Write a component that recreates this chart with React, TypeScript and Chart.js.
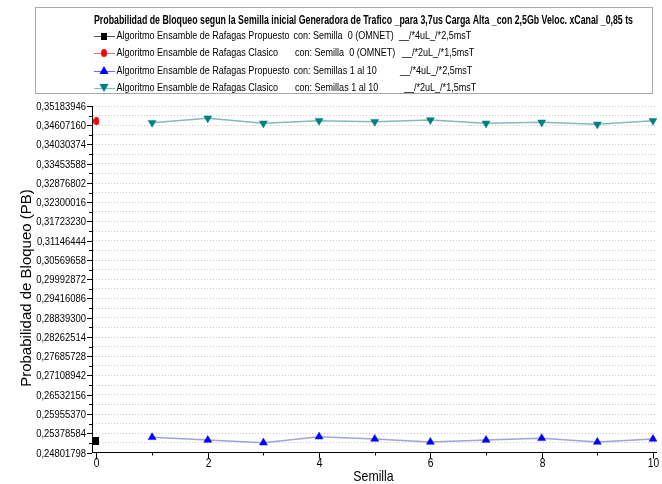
import React, { useEffect, useRef } from 'react';
import { Chart, registerables } from 'chart.js';

Chart.register(...registerables);

// ---------------- data ----------------
const chartTitle =
  'Probabilidad de Bloqueo segun la Semilla inicial Generadora de Trafico _para 3,7us Carga Alta _con 2,5Gb Veloc. xCanal _0,85 ts';
const legendNames = [
  'Algoritmo Ensamble de Rafagas Propuesto',
  'Algoritmo Ensamble de Rafagas Clasico',
  'Algoritmo Ensamble de Rafagas Propuesto',
  'Algoritmo Ensamble de Rafagas Clasico',
];
const legendSeeds = [
  'con: Semilla  0 (OMNET)',
  'con: Semilla  0 (OMNET)',
  'con: Semillas 1 al 10',
  'con: Semillas 1 al 10',
];
const legendParams = ['__/*4uL_/*2,5msT', '__/*2uL_/*1,5msT', '__/*4uL_/*2,5msT', '__/*2uL_/*1,5msT'];

const xTitle = 'Semilla';
const yTitle = 'Probabilidad de Bloqueo (PB)';

const yTickLabels = [
  '0,24801798', '0,25378584', '0,25955370', '0,26532156', '0,27108942', '0,27685728',
  '0,28262514', '0,28839300', '0,29416086', '0,29992872', '0,30569658', '0,31146444',
  '0,31723230', '0,32300016', '0,32876802', '0,33453588', '0,34030374', '0,34607160',
  '0,35183946',
];
const xTickValues = [0, 1, 2, 3, 4, 5, 6, 7, 8, 9, 10];
const xTickLabels = ['0', '', '2', '', '4', '', '6', '', '8', '', '10'];

const seedZero = [0];
const seedsOneToTen = [1, 2, 3, 4, 5, 6, 7, 8, 9, 10];
const propuestoSeed0 = [0.25146];
const clasicoSeed0 = [0.3473];
const propuestoSeeds = [0.25257, 0.25176, 0.25095, 0.25275, 0.25206, 0.25116, 0.25176, 0.25227, 0.25116, 0.25206];
const clasicoSeeds = [0.34684, 0.34815, 0.34666, 0.34744, 0.34714, 0.34765, 0.34666, 0.34696, 0.34636, 0.34744];

// ---------------- styles ----------------
const SANS = "'Liberation Sans', Arial, sans-serif";
const NARROW_FACTOR = 0.82;

function narrowText(ctx: CanvasRenderingContext2D, text: string, x: number, y: number, size: number, bold = false, maxW?: number) {
  ctx.font = `${bold ? 'bold ' : ''}${size}px ${SANS}`;
  const natural = ctx.measureText(text).width;
  let w = natural * NARROW_FACTOR;
  if (maxW !== undefined) w = Math.min(w, maxW);
  if (w > 0) ctx.fillText(text, x, y, w);
}

function makeMarker(kind: 'rect' | 'ellipse', w: number, h: number, color: string) {
  const c = document.createElement('canvas');
  c.width = w;
  c.height = h;
  const g = c.getContext('2d')!;
  g.fillStyle = color;
  if (kind === 'rect') {
    g.fillRect(0, 0, w, h);
  } else {
    g.beginPath();
    g.ellipse(w / 2, h / 2, w / 2, h / 2, 0, 0, Math.PI * 2);
    g.fill();
  }
  return c;
}

export default function App() {
  const ref = useRef<HTMLCanvasElement>(null);

  useEffect(() => {
    const canvas = ref.current!;
    const squareImg = makeMarker('rect', 6, 8, '#000000');
    const circleImg = makeMarker('ellipse', 6, 8, '#ff0000');

    const yMajor = yTickLabels.map((s) => parseFloat(s.replace(',', '.')));
    const yTicks: { value: number; label: string }[] = [];
    for (let i = 0; i < yMajor.length; i++) {
      yTicks.push({ value: yMajor[i], label: yTickLabels[i] });
      if (i < yMajor.length - 1) yTicks.push({ value: (yMajor[i] + yMajor[i + 1]) / 2, label: '' });
    }

    const legendRows = [
      { line: '#505050', marker: 'square' },
      { line: '#e07070', marker: 'circle' },
      { line: '#6a6ae6', marker: 'up' },
      { line: '#7fbfbf', marker: 'down' },
    ];
    const rowY = [35.7, 53.2, 70.6, 87.6];
    const seedX = [293.5, 295, 293.5, 295];
    const paramX = [399, 402, 400, 404];

    const extras = {
      id: 'extras',
      afterDraw(chart: any) {
        const { ctx, chartArea } = chart;
        const xs = chart.scales.x;
        const ys = chart.scales.y;
        ctx.save();
        // tick marks + tick labels
        ctx.strokeStyle = '#000';
        ctx.lineWidth = 1;
        ctx.fillStyle = '#000';
        ctx.textBaseline = 'middle';
        ys.ticks.forEach((t: any, i: number) => {
          const py = Math.round(ys.getPixelForValue(t.value)) + 0.5;
          const len = i % 2 === 0 ? 5 : 3;
          ctx.beginPath();
          ctx.moveTo(chartArea.left - len, py);
          ctx.lineTo(chartArea.left, py);
          ctx.stroke();
          const label = yTicks[i] ? yTicks[i].label : '';
          if (label) {
            ctx.textAlign = 'right';
            narrowText(ctx, label, chartArea.left - 6, py, 11.5);
          }
        });
        xs.ticks.forEach((t: any, i: number) => {
          const px = Math.round(xs.getPixelForValue(t.value)) + 0.5;
          const len = t.value % 2 === 0 ? 6 : 3;
          ctx.beginPath();
          ctx.moveTo(px, chartArea.bottom);
          ctx.lineTo(px, chartArea.bottom + len);
          ctx.stroke();
          const label = xTickLabels[i] || '';
          if (label) {
            ctx.textAlign = 'center';
            narrowText(ctx, label, px, chartArea.bottom + 11, 12.5);
          }
        });

        // axis titles
        ctx.textAlign = 'center';
        ctx.textBaseline = 'middle';
        narrowText(ctx, xTitle, 373.5, 477, 15);
        ctx.save();
        ctx.translate(26.5, 288);
        ctx.rotate(-Math.PI / 2);
        ctx.font = `15px ${SANS}`;
        ctx.fillText(yTitle, 0, 0);
        ctx.restore();

        // legend box
        ctx.strokeStyle = '#a8a8a8';
        ctx.lineWidth = 1;
        ctx.strokeRect(35.5, 7.5, 617, 86);

        ctx.textAlign = 'left';
        ctx.fillStyle = '#000';
        narrowText(ctx, chartTitle, 94, 20.5, 12, true, 539);

        legendRows.forEach((r, i) => {
          const y = rowY[i];
          ctx.strokeStyle = r.line;
          ctx.lineWidth = 1;
          ctx.beginPath();
          ctx.moveTo(94, Math.round(y) + 0.5);
          ctx.lineTo(115, Math.round(y) + 0.5);
          ctx.stroke();
          const cx = 104;
          if (r.marker === 'square') {
            ctx.drawImage(squareImg, cx - 3, Math.round(y) - 3.5, 6, 7);
          } else if (r.marker === 'circle') {
            ctx.drawImage(circleImg, cx - 3, Math.round(y) - 4, 6, 8);
          } else {
            ctx.fillStyle = r.marker === 'up' ? '#0000ff' : '#008080';
            ctx.beginPath();
            if (r.marker === 'up') {
              ctx.moveTo(cx, y - 4.5);
              ctx.lineTo(cx + 4.5, y + 3.5);
              ctx.lineTo(cx - 4.5, y + 3.5);
            } else {
              ctx.moveTo(cx, y + 4.5);
              ctx.lineTo(cx + 4.5, y - 3.5);
              ctx.lineTo(cx - 4.5, y - 3.5);
            }
            ctx.closePath();
            ctx.fill();
          }
          ctx.fillStyle = '#000';
          narrowText(ctx, legendNames[i], 116.5, y, 11);
          narrowText(ctx, legendSeeds[i], seedX[i], y, 11);
          narrowText(ctx, legendParams[i], paramX[i], y, 11);
        });
        ctx.restore();
      },
    };

    const chart = new Chart(canvas, {
      type: 'line',
      data: {
        datasets: [
          {
            label: legendNames[0],
            data: seedZero.map((x, i) => ({ x, y: propuestoSeed0[i] })),
            borderColor: '#505050',
            backgroundColor: '#000000',
            pointStyle: squareImg as any,
            pointRadius: 4,
            showLine: false,
          },
          {
            label: legendNames[1],
            data: seedZero.map((x, i) => ({ x, y: clasicoSeed0[i] })),
            borderColor: '#e07070',
            backgroundColor: '#ff0000',
            pointStyle: circleImg as any,
            pointRadius: 4,
            showLine: false,
          },
          {
            label: legendNames[2],
            data: seedsOneToTen.map((x, i) => ({ x, y: propuestoSeeds[i] })),
            borderColor: '#a2a2dc',
            borderWidth: 1.5,
            pointStyle: 'triangle',
            pointRadius: 4.6,
            pointBorderWidth: 0.5,
            pointBackgroundColor: '#0000ff',
            pointBorderColor: '#0000ff',
          },
          {
            label: legendNames[3],
            data: seedsOneToTen.map((x, i) => ({ x, y: clasicoSeeds[i] })),
            borderColor: '#86b9b9',
            borderWidth: 1.5,
            pointStyle: 'triangle',
            rotation: 180,
            pointRadius: 4.6,
            pointBorderWidth: 0.5,
            pointBackgroundColor: '#008080',
            pointBorderColor: '#008080',
          } as any,
        ],
      },
      options: {
        animation: false,
        responsive: false,
        maintainAspectRatio: false,
        layout: { padding: { top: 106, right: 0, left: 0, bottom: 0 } },
        plugins: { legend: { display: false }, tooltip: { enabled: false } },
        scales: {
          x: {
            type: 'linear',
            min: -0.08,
            max: 10.07,
            afterBuildTicks: (s: any) => {
              s.ticks = xTickValues.map((v) => ({ value: v }));
            },
            afterFit: (s: any) => {
              s.height = 31.5;
            },
            ticks: { display: false },
            grid: { display: true, drawOnChartArea: false, tickLength: 5, tickColor: 'rgba(0,0,0,0)' },
            border: { display: true, color: '#000', width: 1 },
          },
          y: {
            type: 'linear',
            min: yMajor[0],
            max: yMajor[yMajor.length - 1],
            afterBuildTicks: (s: any) => {
              s.ticks = yTicks.map((t) => ({ value: t.value }));
            },
            afterFit: (s: any) => {
              s.width = 92;
            },
            ticks: { display: false },
            grid: { color: '#c8c8c8', lineWidth: 1, tickLength: 5, tickColor: 'rgba(0,0,0,0)' },
            border: { display: true, color: '#000', width: 1, dash: [1, 2] },
          },
        },
      } as any,
      plugins: [extras],
    });
    return () => chart.destroy();
  }, []);

  return (
    <div style={{ position: 'absolute', left: 0, top: 0, width: 662, height: 484, background: '#fff' }}>
      <canvas ref={ref} width={662} height={484} />
    </div>
  );
}
